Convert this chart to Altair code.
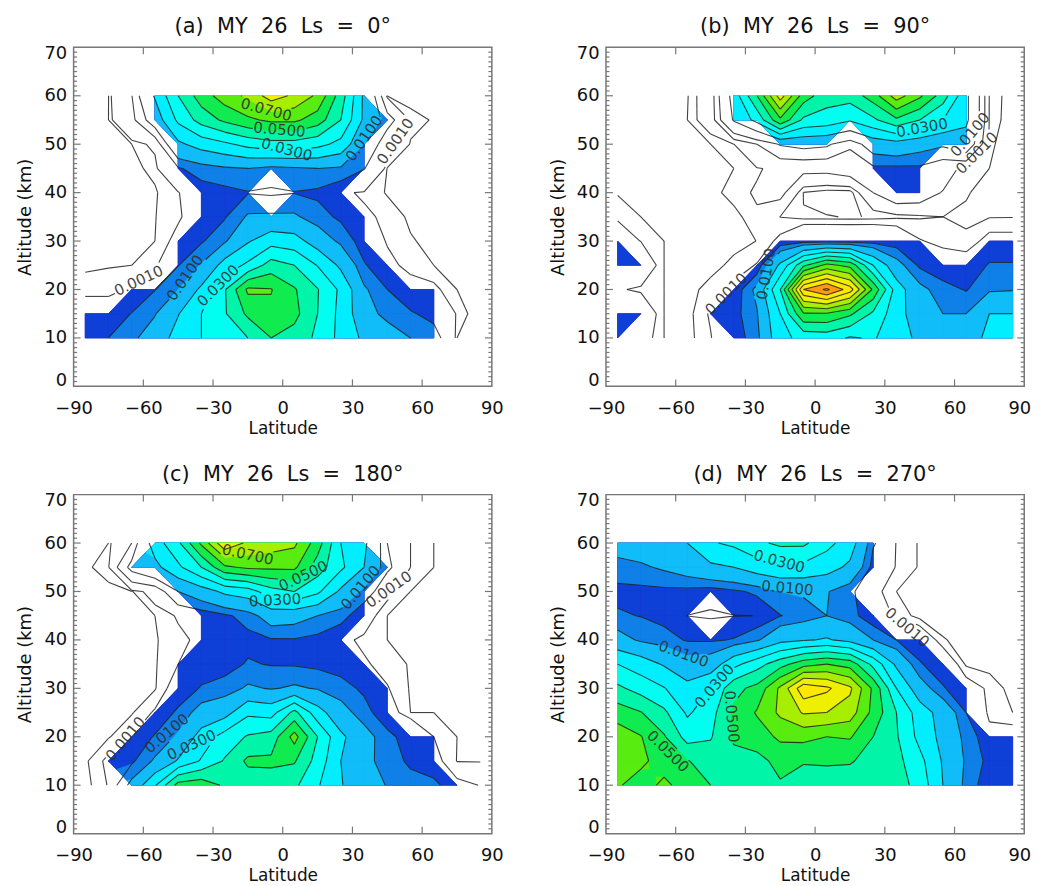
import math
import altair as alt

alt.data_transformers.disable_max_rows()

LATS = [-85, -75, -65, -55, -45, -35, -25, -15, -5, 5, 15, 25, 35, 45, 55, 65, 75, 85]
ALTS = [60, 55, 50, 45, 40, 35, 30, 25, 20, 15, 10]

# extinction, in units of 0.001; rows follow ALTS, columns follow LATS
GRID_A = [
    [.2, .48, 4.8, 21, 40, 55, 65, 72, 85, 78, 68, 45, 18, .45, .28, .2, .1, .1],
    [.2, .5, 3.5, 14, 32, 44, 52, 58, 62, 62, 55, 40, 18, 7, .7, .45, .1, .1],
    [.1, .2, .5, 1.3, 18, 24, 28, 33, 36, 36, 33, 27, 10, 1.8, .45, .3, .1, .1],
    [.1, .15, .4, .6, 4.5, 7, 9, 10, 8, 9, 10, 9, 5.2, .45, .2, .1, .1, .1],
    [.05, .1, .2, .45, .88, 3, 3.5, 4.7, 4.2, 4.8, 4, 1.2, .85, .45, .2, .1, .05, .05],
    [.05, .1, .2, .48, .88, 1.6, 4.5, 10.8, 11, 11, 7, 4, 1.2, .8, .4, .15, .1, .05],
    [.3, .35, .38, .5, 1.3, 4.4, 9, 19, 26, 24, 15, 8.5, 2.5, .85, .55, .35, .15, .05],
    [.38, .46, .5, .52, 4.8, 10.5, 24, 32, 44.5, 40, 29.5, 18, 5.5, 1.5, .5, .5, .3, .1],
    [.8, .8, 1.1, 4.8, 10, 22, 39, 62, 60.5, 51, 40.5, 28, 11, 5, 1.8, 1.2, .5, .15],
    [1.5, 1.5, 5.2, 9.5, 19.5, 30, 39, 52, 58, 53, 40, 27, 13, 8, 5.5, 3.6, .85, .1],
    [1.2, 5, 8.5, 14, 24, 30, 34, 40, 50, 46, 38, 27, 18, 14, 10, 7, .5, .1],
]
GRID_B = [
    [.1, .1, .1, .45, 1.8, 24, 50, 85, 55, 44, 44, 55, 75, 62, 45, 22, .85, .2],
    [.1, .1, .1, .5, 1.7, 21, 33, 58, 38, 36, 31, 38, 48, 40, 30, 22, .8, .2],
    [.1, .1, .1, .28, .5, .98, 5, 10.5, 12, 11, 6, 14, 16, 13, 11, 15, .6, .2],
    [.1, .1, .1, .1, .28, .5, .9, 1.3, 1.2, 1.2, 1.4, 4, 3.8, 4, 1.5, .7, .5, .2],
    [.45, .28, .28, .28, .28, .75, 1.1, 1.2, .29, .2, .2, 1, 1.5, 1.4, .95, .55, .28, .28],
    [.9, .5, .28, .28, .28, .28, .9, .49, .31, .31, .29, .31, .4, .45, .5, .4, .47, .48],
    [1.5, .98, .5, .28, .28, .3, .51, 1.2, 2.5, 2.5, 2.5, 2.5, 2, 1.05, .8, .6, 1.3, 1.3],
    [2, 2, .5, .28, .3, .65, 1.05, 22, 48, 63, 57, 30, 13, 4, 1.5, 1.5, 5.5, 5.5],
    [1.1, .85, .5, .3, .7, 1.2, 12, 40, 100, 112, 95, 58, 25, 12, 7, 4.6, 9, 9.5],
    [2, 2, .5, .3, 1.1, 3, 9.5, 30, 59, 59, 52, 38, 24, 14, 10, 10, 20, 20],
    [1.3, 1.5, .5, .3, .95, 2, 8, 27, 33, 34, 29, 31, 24, 18, 13, 16, 22, 23],
]
GRID_C = [
    [.28, .5, 5, 25, 38, 62, 88, 78, 75, 72, 55, 30, 22, 5, 1, .5, .28, .2],
    [.35, .85, 12, 17, 28, 40, 58, 62, 62, 62, 45, 32, 20, 6, 1, .5, .28, .2],
    [.1, .28, .45, 1.6, 10, 15, 22, 25, 36, 40, 32, 18, 8, 1.3, .5, .28, .2, .1],
    [.1, .15, .28, .5, 1.1, 2, 4, 7, 14, 13, 10, 7, 1.5, .5, .28, .2, .1, .1],
    [.1, .15, .2, .45, .8, 1.2, 1.8, 3.5, 4.5, 4.6, 3.5, 1.2, .85, .5, .28, .2, .1, .1],
    [.1, .15, .2, .45, 1, 2, 3, 5.5, 4.7, 4.5, 3.8, 2.8, 1.1, .75, .45, .2, .15, .1],
    [.1, .15, .2, .45, 1.5, 5.5, 7, 11, 9.5, 11, 9.5, 7, 4, 1.05, .45, .2, .15, .1],
    [.15, .28, .45, 1.1, 6, 13, 16, 28, 26, 43, 24, 13, 7, 1.5, .5, .5, .28, .15],
    [.28, .45, 1, 5.5, 11, 24, 34, 41, 44, 64, 40, 22, 13, 6.5, 2.5, 1, .5, .28],
    [.4, 1.2, 4, 11, 21, 31, 41, 52, 52, 51, 36, 20, 12, 7.5, 4, 1.3, .48, .48],
    [.3, 1.05, 12, 29, 54, 56, 48.5, 44, 45, 42, 31, 20.5, 15, 9.5, 7, 6.5, 1.2, .98],
]
GRID_D = [
    [13, 14, 15, 20, 29, 32, 38, 42, 42, 33, 25, 5.5, .88, .45, .2, .2, .2, .2],
    [8, 9, 11, 14, 18, 20, 25, 28, 27, 24, 18, 3, .88, .45, .2, .2, .2, .2],
    [3.5, 3.6, 3.8, 3.5, 2.5, 4, 6, 10, 11, 10.5, 6, 1.3, .5, .28, .2, .2, .2, .2],
    [5.7, 4.8, 3.4, .95, .5, .92, 1.02, 4.8, 7, 10, 7, 1.5, .88, .28, .2, .2, .2, .2],
    [13, 9, 7, 4.5, 4.4, 5.3, 9, 17, 19, 21, 17, 10, 5, 2, .55, .28, .2, .2],
    [30, 25, 19, 13, 14, 27, 36, 46, 56, 60, 56, 37, 18, 5.5, 2, .4, .28, .2],
    [42, 36, 30.5, 23, 30, 47, 53, 72, 97, 92, 82, 58, 30, 14, 5.5, 1.5, .85, .28],
    [55, 50.5, 42, 28.5, 36, 52, 61, 72, 81, 80, 75, 57, 40, 25, 16, 5, .5, .5],
    [66, 60.5, 51, 36, 39, 52, 55, 62, 63, 60, 61, 50, 41, 27, 17, 8, 1.8, 1.5],
    [68, 62, 56, 50.5, 46, 46, 47, 53, 50.5, 51, 51, 46, 43, 33, 19, 9, 3.5, 2],
    [61, 56, 62, 56, 50, 44, 43, 49, 47, 46, 44, 44, 45, 36, 20, 8, 2, 1.5],
]

# grid points left unfilled in the picture although their contour value is above the fill floor
GAPS_A = [(-65, 60), (-65, 55), (-55, 50), (45, 50), (-5, 40)]
GAPS_B = [(-45, 60), (-45, 55), (-35, 50), (-25, 50), (15, 50), (-25, 45), (-15, 45), (-5, 45),
          (5, 45), (15, 45), (55, 45), (-25, 40), (-15, 40), (25, 40), (55, 40), (-25, 35),
          (-85, 35), (-75, 30), (-85, 20), (-75, 10), (-45, 10)]
GAPS_C = [(-65, 60), (45, 60), (55, 60), (55, 55), (-55, 50), (45, 50), (-45, 45), (-75, 10), (85, 10)]
GAPS_D = [(-45, 45), (25, 50)]

# contour labels: text, latitude, altitude, angle
LABELS_A = [("0.0700", -7.1, 57.1, 15), ("0.0500", -1.4, 53, 5), ("0.0300", 1.7, 48.9, 15),
            ("0.0100", 35, 51.2, 305), ("0.0010", 48.5, 50.6, 305), ("0.0010", -62, 21.8, 335),
            ("0.0100", -42, 22.4, 305), ("0.0300", -27.8, 20.8, 315)]
LABELS_B = [("0.0300", 46, 53.4, 350), ("0.0100", 66.7, 52, 310), ("0.0010", 69.6, 48.2, 315),
            ("0.0010", -38.3, 19.1, 315), ("0.0100", -21.1, 23.2, 280)]
LABELS_C = [("0.0700", -15, 57.6, 12), ("0.0500", 8.8, 53.2, 335), ("0.0300", -3.3, 48.2, 357),
            ("0.0100", 33.5, 50.8, 310), ("0.0010", 45.6, 50.4, 325), ("0.0010", -67.7, 19.6, 310),
            ("0.0100", -49.9, 20.7, 320), ("0.0300", -39.2, 18.3, 335)]
LABELS_D = [("0.0300", -15.4, 56.2, 15), ("0.0100", -11.9, 50.7, 5), ("0.0100", -56.6, 37.1, 20),
            ("0.0010", 39.6, 42.6, 40), ("0.0300", -43.3, 30.5, 310), ("0.0500", -35.9, 24.2, 85),
            ("0.0500", -63.3, 17, 45)]

TITLES = ["(a) \u00a0MY \u00a026 \u00a0Ls \u00a0= \u00a00\u00b0",
          "(b) \u00a0MY \u00a026 \u00a0Ls \u00a0= \u00a090\u00b0",
          "(c) \u00a0MY \u00a026 \u00a0Ls \u00a0= \u00a0180\u00b0",
          "(d) \u00a0MY \u00a026 \u00a0Ls \u00a0= \u00a0270\u00b0"]

LINE_LEVELS = [.5, 1, 5, 10, 20, 30, 40, 50, 60, 70, 80, 90, 100, 110]
FILL_FLOOR = .9
BANDS = [(.9, "#5a10a8"), (1, "#0e3fd6"), (5, "#0f80e8"), (10, "#10bdf8"), (20, "#00eeff"),
         (30, "#00fff0"), (40, "#00f5a8"), (50, "#10ec50"), (60, "#58ec10"), (70, "#a8ee00"),
         (80, "#eef000"), (90, "#ffe800"), (100, "#ff9a10")]

W, H = 420.7, 341
AXIS_GREY = "#777777"
FONT = "DejaVu Sans"
XTICKS = [-60, -30, 0, 30, 60]
YMAJOR = [10, 20, 30, 40, 50, 60]
YMINOR = [v for v in range(1, 70) if v % 10]


def clip_cell(poly, lev):
    out = []
    for i, a in enumerate(poly):
        b = poly[(i + 1) % len(poly)]
        if a[2] >= lev:
            out.append(a)
        if (a[2] >= lev) != (b[2] >= lev):
            t = (lev - a[2]) / (b[2] - a[2])
            out.append((a[0] + t * (b[0] - a[0]), a[1] + t * (b[1] - a[1]), lev))
    return out


def clip_parts(poly, lev):
    """A saddle cell is split around its centre so that two separate peaks stay separate."""
    if len(poly) == 4:
        flags = [p[2] >= lev for p in poly]
        if flags[0] == flags[2] and flags[1] == flags[3] and flags[0] != flags[1]:
            centre = (sum(p[0] for p in poly) / 4, sum(p[1] for p in poly) / 4,
                      sum(p[2] for p in poly) / 4)
            return [clip_cell([poly[i], poly[(i + 1) % 4], centre], lev) for i in range(4)]
    return [clip_cell(poly, lev)]


def cells(grid):
    for r in range(len(ALTS) - 1):
        for c in range(len(LATS) - 1):
            yield [(LATS[c], ALTS[r + 1], grid[r + 1][c]), (LATS[c + 1], ALTS[r + 1], grid[r + 1][c + 1]),
                   (LATS[c + 1], ALTS[r], grid[r][c + 1]), (LATS[c], ALTS[r], grid[r][c])]


def fill_rows(grid, gaps):
    bands = {lev: [] for lev, _ in BANDS}
    pid = 0
    for cell in cells(grid):
        poly = [p for p in cell if p[2] >= FILL_FLOOR and (p[0], p[1]) not in gaps]
        if len(poly) < 3:
            continue
        for lev, _ in BANDS:
            parts = clip_parts(poly, lev) if lev > FILL_FLOOR else [poly]
            for part in parts:
                if len(part) < 3:
                    continue
                pid += 1
                for i, p in enumerate(part + part[:1]):
                    bands[lev].append({"x": round(p[0], 3), "y": round(p[1], 3), "p": pid, "i": i})
    return bands


def crossing(a, b, lev):
    t = (lev - a[2]) / (b[2] - a[2])
    return (a[0] + t * (b[0] - a[0]), a[1] + t * (b[1] - a[1]))


def cell_segments(cell, lev):
    flags = [p[2] >= lev for p in cell]
    pts = {}
    for e in range(4):
        if flags[e] != flags[(e + 1) % 4]:
            pts[e] = crossing(cell[e], cell[(e + 1) % 4], lev)
    if len(pts) == 2:
        a, b = list(pts.values())
        return [(a, b)]
    if len(pts) == 4:
        centre = sum(p[2] for p in cell) / 4 >= lev
        if flags[0] == centre:
            return [(pts[0], pts[1]), (pts[2], pts[3])]
        return [(pts[3], pts[0]), (pts[1], pts[2])]
    return []


def to_px(lat, alti):
    return (lat + 90) * W / 180, -alti * H / 70


def outside_pieces(seg, label):
    """Parts of a contour segment that stay clear of its own label, as IDL leaves a gap there."""
    (ax, ay), (bx, by) = to_px(*seg[0]), to_px(*seg[1])
    cx, cy = to_px(label[1], label[2])
    ang = math.radians(label[3])
    cs, sn = math.cos(ang), math.sin(ang)
    rot = lambda x, y: ((x - cx) * cs + (y - cy) * sn, -(x - cx) * sn + (y - cy) * cs)
    p, q = rot(ax, ay), rot(bx, by)
    t0, t1 = 0.0, 1.0
    for d, s, half in ((q[0] - p[0], p[0], 27), (q[1] - p[1], p[1], 8)):
        if abs(d) < 1e-9:
            if abs(s) > half:
                return [seg]
            continue
        ta, tb = sorted(((-half - s) / d, (half - s) / d))
        t0, t1 = max(t0, ta), min(t1, tb)
    if t0 >= t1:
        return [seg]
    at = lambda t: (seg[0][0] + t * (seg[1][0] - seg[0][0]), seg[0][1] + t * (seg[1][1] - seg[0][1]))
    out = []
    if t0 > 0:
        out.append((seg[0], at(t0)))
    if t1 < 1:
        out.append((at(t1), seg[1]))
    return out


def line_rows(grid, labels, extra):
    rows = []
    for cell in cells(grid):
        levels = list(LINE_LEVELS)
        for lev, lat0, lat1, alt0, alt1 in extra:
            if all(lat0 <= p[0] <= lat1 and alt0 <= p[1] <= alt1 for p in cell):
                levels.append(lev)
        for lev in levels:
            for seg in cell_segments(cell, lev):
                parts = [seg]
                for lab in labels:
                    if abs(float(lab[0]) * 1000 - lev) < 1e-6:
                        parts = [r for s in parts for r in outside_pieces(s, lab)]
                for a, b in parts:
                    rows.append({"x": round(a[0], 3), "y": round(a[1], 3),
                                 "x2": round(b[0], 3), "y2": round(b[1], 3)})
    return rows


XSC = alt.Scale(domain=[-90, 90], nice=False, zero=False)
YSC = alt.Scale(domain=[0, 70], nice=False, zero=False)
YAXIS = alt.Axis(values=[0, 10, 20, 30, 40, 50, 60, 70], ticks=False, domain=False, grid=False,
                 labelFlush=True, labelFlushOffset=3, labelFont=FONT, labelFontSize=18, labelColor="#111",
                 labelPadding=7, titleFont=FONT, titleFontSize=18, titleFontWeight="normal",
                 titleColor="#111", titlePadding=9)
PY = alt.Y("y:Q", scale=YSC, axis=YAXIS, title="Altitude (km)")


def x_channel(last_shift):
    offset = {"condition": {"test": "datum.value == 90", "value": last_shift}, "value": 0}
    axis = alt.Axis(values=[-90, -60, -30, 0, 30, 60, 90], ticks=False, domain=False, grid=False,
                    labelFlush=False, labelOffset=offset, labelFont=FONT, labelFontSize=18,
                    labelColor="#111", labelPadding=13, titleFont=FONT, titleFontSize=17,
                    titleFontWeight="normal", titleColor="#111", titlePadding=3)
    return alt.X("x:Q", scale=XSC, axis=axis, title="Latitude")


def tick_layer(rows, **enc):
    return alt.Chart(alt.Data(values=rows)).mark_rule(color=AXIS_GREY, strokeWidth=1.2).encode(**enc)


def panel(grid, gaps, labels, title, extra=(), last_shift=0):
    PX = x_channel(last_shift)
    layers = []
    bands = fill_rows(grid, set(gaps))
    for lev, colour in BANDS:
        if bands[lev]:
            layers.append(alt.Chart(alt.Data(values=bands[lev])).mark_line(
                fill=colour, stroke=colour, strokeWidth=0.7).encode(
                x=PX, y=PY, detail="p:N", order="i:Q"))
    layers.append(alt.Chart(alt.Data(values=line_rows(grid, labels, extra))).mark_rule(
        color="#202020", strokeWidth=1.1, opacity=0.85).encode(
        x=PX, y=PY, x2=alt.X2("x2:Q"), y2=alt.Y2("y2:Q")))
    lab_rows = [{"t": t, "x": x, "y": y, "a": a} for t, x, y, a in labels]
    for row in lab_rows:
        layers.append(alt.Chart(alt.Data(values=[row])).mark_text(
            font=FONT, fontSize=15, color="#303030", angle=row["a"], opacity=0.9).encode(
            x=PX, y=PY, text="t:N"))
    xmaj = [{"x": v} for v in XTICKS]
    ymaj = [{"y": v} for v in YMAJOR]
    ymin = [{"y": v} for v in YMINOR]
    layers.append(tick_layer(xmaj, x=PX, y=alt.value(H), y2=alt.value(H - 7)))
    layers.append(tick_layer(xmaj, x=PX, y=alt.value(0), y2=alt.value(7)))
    layers.append(tick_layer(ymaj, y=PY, x=alt.value(0), x2=alt.value(7)))
    layers.append(tick_layer(ymaj, y=PY, x=alt.value(W), x2=alt.value(W - 7)))
    layers.append(tick_layer(ymin, y=PY, x=alt.value(0), x2=alt.value(3.5)))
    layers.append(tick_layer(ymin, y=PY, x=alt.value(W), x2=alt.value(W - 3.5)))
    return alt.layer(*layers).properties(
        width=W, height=H,
        title=alt.TitleParams(title, font=FONT, fontSize=21, fontWeight="normal", color="#111", offset=7),
    )


chart = alt.concat(
    panel(GRID_A, GAPS_A, LABELS_A, TITLES[0]),
    panel(GRID_B, GAPS_B, LABELS_B, TITLES[1], extra=[(.3, -15, 35, 35, 45)], last_shift=-5),
    panel(GRID_C, GAPS_C, LABELS_C, TITLES[2]),
    panel(GRID_D, GAPS_D, LABELS_D, TITLES[3], last_shift=-5),
    columns=2,
    spacing=alt.RowColnumber(row=108.9, column=114.5),
    bounds="flush",
).properties(padding={"left": 8, "top": 5, "right": 0, "bottom": 0}).configure_view(
    stroke=AXIS_GREY, strokeWidth=1.5
)

chart.save("out.html", embed_options={"renderer": "svg", "actions": False})
